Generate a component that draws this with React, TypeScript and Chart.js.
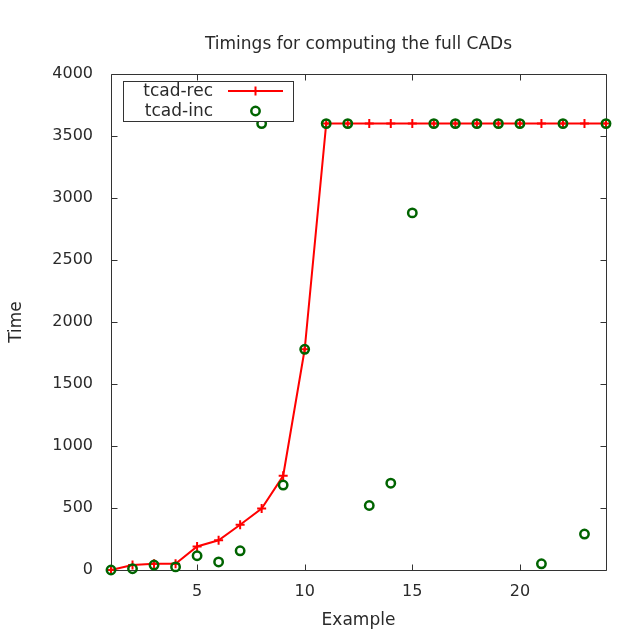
import React, { useEffect, useRef } from "react";
import { Chart, registerables } from "chart.js";

Chart.register(...registerables);

const examples = [1, 2, 3, 4, 5, 6, 7, 8, 9, 10, 11, 12, 13, 14, 15, 16, 17, 18, 19, 20, 21, 22, 23, 24];
const tcadRec = [0, 40, 50, 50, 190, 240, 365, 495, 760, 1780, 3600, 3600, 3600, 3600, 3600, 3600, 3600, 3600, 3600, 3600, 3600, 3600, 3600, 3600];
const tcadInc = [0, 10, 40, 25, 115, 65, 155, 3600, 685, 1780, 3600, 3600, 520, 700, 2880, 3600, 3600, 3600, 3600, 3600, 50, 3600, 290, 3600];
const xTicks = [5, 10, 15, 20];
const yTicks = [0, 500, 1000, 1500, 2000, 2500, 3000, 3500, 4000];
const titleText = "Timings for computing the full CADs";
const xTitle = "Example";
const yTitle = "Time";

const FONT = "'DejaVu Sans', sans-serif";
const RED = "#ff0000";
const GREEN = "#006400";
const AXIS = "#333333";
const TEXT = "#2a2a2a";

const decorPlugin = {
  id: "decor",
  beforeDatasetsDraw(chart: any) {
    const { ctx, chartArea: a, scales } = chart;
    ctx.save();
    ctx.strokeStyle = AXIS;
    ctx.lineWidth = 1;
    ctx.beginPath();
    const L = Math.round(a.left) + 0.5, R = Math.round(a.right) + 0.5;
    const T = Math.round(a.top) + 0.5, B = Math.round(a.bottom) + 0.5;
    ctx.rect(L, T, R - L, B - T);
    const tl = 6;
    for (const v of xTicks) {
      const x = Math.round(scales.x.getPixelForValue(v)) + 0.5;
      ctx.moveTo(x, B); ctx.lineTo(x, B - tl);
      ctx.moveTo(x, T); ctx.lineTo(x, T + tl);
    }
    for (const v of yTicks) {
      const y = Math.round(scales.y.getPixelForValue(v)) + 0.5;
      ctx.moveTo(L, y); ctx.lineTo(L + tl, y);
      ctx.moveTo(R, y); ctx.lineTo(R - tl, y);
    }
    ctx.stroke();
    ctx.restore();
  },
  afterDraw(chart: any) {
    const { ctx, chartArea: a } = chart;
    ctx.save();
    ctx.fillStyle = TEXT;
    ctx.textAlign = "center";
    ctx.textBaseline = "middle";
    ctx.font = `17px ${FONT}`;
    const cx = (a.left + a.right) / 2;
    ctx.fillText(titleText, cx, 45);
    ctx.fillText(xTitle, cx, 621);
    ctx.save();
    ctx.translate(17, (a.top + a.bottom) / 2);
    ctx.rotate(-Math.PI / 2);
    ctx.fillText(yTitle, 0, 0);
    ctx.restore();

    // legend
    const bx = 123.5, by = 81.5, bw = 170, bh = 40;
    ctx.fillStyle = "#ffffff";
    ctx.fillRect(bx, by, bw, bh);
    ctx.strokeStyle = AXIS;
    ctx.lineWidth = 1;
    ctx.strokeRect(bx, by, bw, bh);
    ctx.fillStyle = TEXT;
    ctx.textAlign = "right";
    ctx.font = `17px ${FONT}`;
    const ds = chart.data.datasets;
    ctx.fillText(ds[1].label, 213, 92);
    ctx.fillText(ds[0].label, 213, 112);
    // rec sample
    ctx.strokeStyle = RED;
    ctx.lineWidth = 2;
    ctx.beginPath();
    ctx.moveTo(228, 91); ctx.lineTo(283, 91);
    ctx.moveTo(255.5, 86.5); ctx.lineTo(255.5, 95.5);
    ctx.stroke();
    // inc sample
    ctx.strokeStyle = GREEN;
    ctx.lineWidth = 2.5;
    ctx.beginPath();
    ctx.arc(255.5, 111, 4.2, 0, Math.PI * 2);
    ctx.stroke();
    ctx.restore();
  },
};

export default function App() {
  const ref = useRef<HTMLCanvasElement>(null);
  useEffect(() => {
    const prevMargin = document.body.style.margin;
    document.body.style.margin = "0";
    const chart = new Chart(ref.current!, {
      type: "line",
      data: {
        datasets: [
          {
            label: "tcad-inc",
            data: examples.map((x, i) => ({ x, y: tcadInc[i] })),
            showLine: false,
            pointStyle: "circle",
            pointRadius: 4.2,
            pointBorderWidth: 2.5,
            pointBorderColor: GREEN,
            pointBackgroundColor: "rgba(0,0,0,0)",
            borderColor: GREEN,
            clip: false as any,
            order: 0,
          },
          {
            label: "tcad-rec",
            data: examples.map((x, i) => ({ x, y: tcadRec[i] })),
            borderColor: RED,
            borderWidth: 2,
            tension: 0,
            pointStyle: "cross",
            pointRadius: 4.5,
            pointBorderWidth: 2,
            pointBorderColor: RED,
            clip: false as any,
            order: 1,
          },
        ],
      },
      options: {
        animation: false,
        responsive: false,
        devicePixelRatio: 1,
        layout: { padding: { top: 74, right: 30, left: 0, bottom: 0 } },
        plugins: { legend: { display: false }, tooltip: { enabled: false }, title: { display: false } },
        scales: {
          x: {
            type: "linear",
            min: 1,
            max: 24,
            afterBuildTicks: (s: any) => { s.ticks = xTicks.map((v) => ({ value: v })); },
            afterFit: (s: any) => { s.height = 70; },
            grid: { display: false, drawTicks: false },
            border: { display: false },
            ticks: { padding: 12, color: TEXT, font: { family: FONT, size: 16 }, maxRotation: 0, autoSkip: false, callback: (v: any) => String(v) },
          },
          y: {
            type: "linear",
            min: 0,
            max: 4000,
            afterBuildTicks: (s: any) => { s.ticks = yTicks.map((v) => ({ value: v })); },
            afterFit: (s: any) => { s.width = 111; },
            grid: { display: false, drawTicks: false },
            border: { display: false },
            ticks: { padding: 18, color: TEXT, font: { family: FONT, size: 16 }, callback: (v: any) => String(v) },
          },
        },
      },
      plugins: [decorPlugin],
    });
    return () => {
      chart.destroy();
      document.body.style.margin = prevMargin;
    };
  }, []);
  return (
    <div style={{ position: "absolute", left: 0, top: 0, width: 636, height: 640, background: "#ffffff" }}>
      <canvas ref={ref} width={636} height={640} style={{ width: 636, height: 640, display: "block" }} />
    </div>
  );
}
